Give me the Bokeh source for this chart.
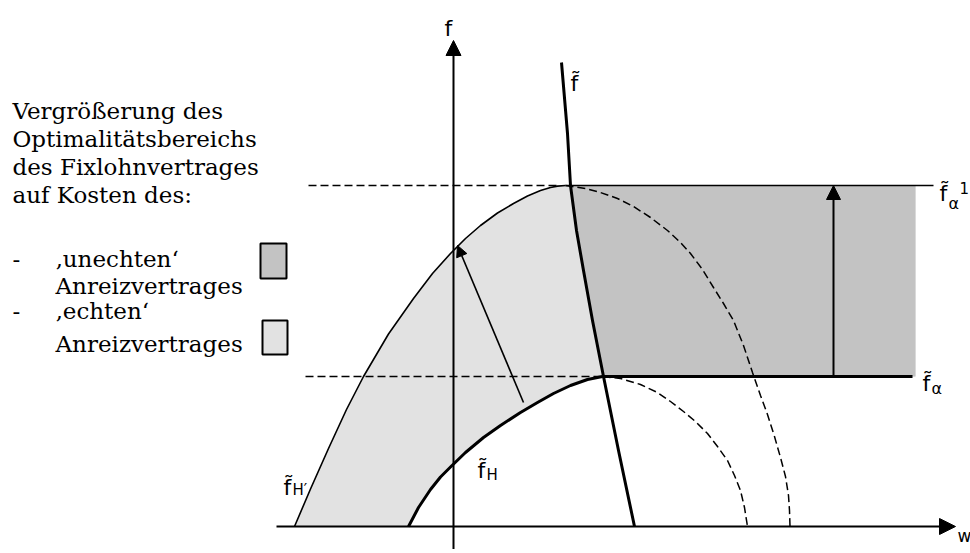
import numpy as np
from bokeh.plotting import figure
from bokeh.models import Range1d, Arrow, NormalHead
from bokeh.core.properties import value
from bokeh.embed import file_html
from bokeh.resources import INLINE

# ---- diagram values (picture units, origin at axes crossing) ----
X0, Y0 = 453, 526

outer_x = [294, 310, 328, 346, 363, 388, 413, 432, 450, 465, 480, 497, 513, 527, 540, 550, 557, 565]
outer_y = [526, 488.5, 448, 409, 376, 333.5, 298, 273, 253, 238, 225, 212.5, 203, 195.5, 190, 187, 185.6, 185]

inner_x = [408, 418, 430, 440, 450, 465, 483, 500, 520, 537, 553, 570, 587, 602]
inner_y = [526, 507, 489, 476.5, 466.5, 452, 437, 425, 412, 402, 393, 385, 379, 376]

ftilde_x = [561, 567, 570, 576, 583, 592, 603, 618, 634]
ftilde_y = [62, 133, 185, 230, 270, 320, 376, 450, 526]

arc1_x = [602, 620, 640, 657, 670, 683, 695, 707, 717, 727, 734, 740, 744, 747]
arc1_y = [376, 378, 384, 392, 401, 411, 421, 433, 446, 460, 475, 490, 507, 526]

arc2_x = [565, 585, 600, 617, 633, 650, 667, 680, 690, 702, 713, 723, 733, 743, 752, 760, 767, 774, 780, 785, 788, 789, 789.5]
arc2_y = [185, 188, 192, 198, 206, 217, 230, 242, 253, 269, 287, 303, 320, 345, 372, 395, 414, 436, 457, 476, 495, 510, 526]

level_alpha1 = 185   # f~alpha1
level_alpha = 376    # f~alpha
shade_right = 915

left_lines = ["Vergrößerung des", "Optimalitätsbereichs", "des Fixlohnvertrages", "auf Kosten des:"]
left_base = [110, 138, 166, 194]
item_lines = ["‚unechten‘", "Anreizvertrages", "‚echten‘", "Anreizvertrages"]
item_base = [258, 285, 310, 343]
dash_base = [258, 310]


def W(px):
    return np.asarray(px, dtype=float) - X0


def F(py):
    return Y0 - np.asarray(py, dtype=float)


p = figure(width=970, height=549, output_backend="svg", toolbar_location=None,
           x_range=Range1d(W(0), W(970)), y_range=Range1d(F(549), F(0)),
           x_axis_type=None, y_axis_type=None, min_border=0)
p.grid.visible = False
p.outline_line_color = None
p.background_fill_color = "white"

LIGHT = "#e2e2e2"
DARK = "#c3c3c3"

# light grey band between the two curves
lx = list(outer_x) + [shade_right, shade_right] + list(inner_x[::-1])
ly = list(outer_y) + [level_alpha1, level_alpha] + list(inner_y[::-1])
p.patch(W(lx), F(ly), fill_color=LIGHT, line_color=None)

# dark grey region right of f~
sel = [i for i, y in enumerate(ftilde_y) if level_alpha1 <= y <= level_alpha]
dx = [ftilde_x[i] for i in sel] + [shade_right, shade_right]
dy = [ftilde_y[i] for i in sel] + [level_alpha, level_alpha1]
p.patch(W(dx), F(dy), fill_color=DARK, line_color=None)

# dashed guide lines
p.line(W([308, outer_x[-2]]), F([level_alpha1, level_alpha1]), line_color="black", line_width=1.5, line_dash="8 4")
p.line(W([305, inner_x[-1]]), F([level_alpha, level_alpha]), line_color="black", line_width=1.5, line_dash="8 4")
p.line(W(arc1_x), F(arc1_y), line_color="black", line_width=1.5, line_dash="8 4")
p.line(W(arc2_x), F(arc2_y), line_color="black", line_width=1.5, line_dash="8 4")

# curves
p.line(W(outer_x), F(outer_y), line_color="black", line_width=1.6, line_join="round")
p.line(W([outer_x[-1], 933]), F([level_alpha1, level_alpha1]), line_color="black", line_width=1.6)
p.line(W(inner_x), F(inner_y), line_color="black", line_width=3, line_join="round")
p.line(W([inner_x[-1], 912]), F([level_alpha, level_alpha]), line_color="black", line_width=3)
p.line(W(ftilde_x), F(ftilde_y), line_color="black", line_width=3, line_join="round")

# axes with arrow heads
p.add_layout(Arrow(end=NormalHead(size=15, fill_color="black", line_color="black", line_width=1),
                   x_start=W(453), y_start=F(552), x_end=W(453), y_end=F(40),
                   line_color="black", line_width=2))
p.add_layout(Arrow(end=NormalHead(size=16, fill_color="black", line_color="black", line_width=1),
                   x_start=W(276), y_start=F(526), x_end=W(955), y_end=F(526),
                   line_color="black", line_width=2))
# shift arrows
p.add_layout(Arrow(end=NormalHead(size=14, fill_color="black", line_color="black", line_width=1),
                   x_start=W(833), y_start=F(level_alpha), x_end=W(833), y_end=F(level_alpha1),
                   line_color="black", line_width=2))
p.add_layout(Arrow(end=NormalHead(size=11, fill_color="black", line_color="black", line_width=1),
                   x_start=W(523), y_start=F(402), x_end=W(457), y_end=F(245),
                   line_color="black", line_width=1.6))

SANS = value("DejaVu Sans")
SERIF = value("DejaVu Serif")


def label(px, py, txt, size, font=SANS):
    p.text(x=W([px]), y=F([py]), text=[txt], text_font=font, text_font_size=size,
           text_baseline="alphabetic", text_align="left", text_color="black")


# axis labels
label(444, 28, "f", "22px")
label(957, 535, "w", "17px")

# curve labels
label(570, 83, "f\u0303", "22px")
label(477, 470, "f\u0303", "22px")
label(486, 474, "H", "15px")
label(283, 487, "f\u0303", "22px")
label(292, 489, "H\u2032", "15px")
label(922, 383, "f\u0303", "22px")
label(931, 388, "\u03b1", "16px")
label(939, 193, "f\u0303", "22px")
label(948, 203, "\u03b1", "16px")
label(959, 187, "1", "15px")

# left explanatory text
for t, b in zip(left_lines, left_base):
    label(12, b, t, "23px", SERIF)
for t, b in zip(item_lines, item_base):
    label(55, b, t, "23px", SERIF)
for b in dash_base:
    label(12, b, "-", "23px", SERIF)

# legend swatches
p.quad(left=W([260]), right=W([286]), top=F([243]), bottom=F([278]),
       fill_color=DARK, line_color="black", line_width=2)
p.quad(left=W([262]), right=W([287]), top=F([320]), bottom=F([354]),
       fill_color=LIGHT, line_color="black", line_width=2)

open("out.html", "w").write(file_html(p, INLINE))
